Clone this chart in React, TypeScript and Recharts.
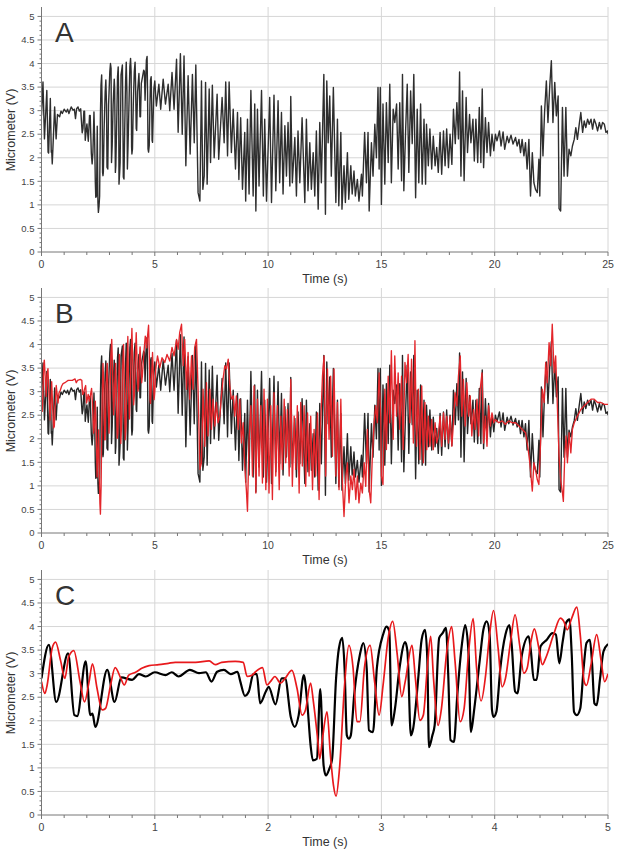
import React from 'react';
import { LineChart, Line, XAxis, YAxis, CartesianGrid } from 'recharts';

type Pair = [number, number];

// first 5 s (black = micrometer, red = model)
const blackZoom: Pair[] = [
  [0, 2.9], [0.065, 3.61], [0.13, 2.4], [0.235, 3.43], [0.29, 2.12], [0.315, 2.1], [0.39, 3.26], [0.43, 2.12],
  [0.45, 2.15], [0.475, 1.87], [0.58, 3.08], [0.645, 2.4], [0.705, 2.92], [0.8, 2.87], [0.86, 2.99], [0.92, 2.94],
  [1.0, 3.03], [1.095, 2.97], [1.15, 3.03], [1.21, 2.94], [1.31, 3.08], [1.39, 3.01], [1.45, 3.03], [1.5, 2.83],
  [1.55, 3.04], [1.61, 3.08], [1.67, 2.99], [1.73, 3.04], [1.755, 2.83], [1.795, 2.53], [1.83, 2.62], [1.87, 2.99],
  [1.9, 2.99], [1.93, 2.37], [1.98, 2.62], [2.005, 2.72], [2.065, 2.35], [2.12, 2.9], [2.15, 2.9], [2.2, 2.08],
  [2.235, 1.87], [2.27, 2.12], [2.315, 2.97], [2.345, 2.4], [2.375, 1.48], [2.395, 1.16], [2.43, 1.19], [2.46, 2.67],
  [2.49, 1.05], [2.51, 0.84], [2.54, 0.98], [2.565, 1.19], [2.6, 2.9], [2.625, 3.54], [2.655, 3.76], [2.675, 3.12],
  [2.695, 1.69], [2.713, 1.62], [2.73, 1.69], [2.76, 2.55], [2.81, 3.4], [2.84, 3.65], [2.87, 3.12], [2.89, 1.8],
  [2.926, 1.76], [2.96, 3.12], [3.015, 3.83], [3.044, 4.0], [3.07, 3.9], [3.09, 1.9], [3.12, 2.26], [3.16, 3.12],
  [3.21, 3.67], [3.23, 3.47], [3.26, 1.69], [3.28, 1.83], [3.325, 2.9], [3.355, 3.72], [3.385, 3.93], [3.405, 3.33],
  [3.42, 1.44], [3.45, 1.69], [3.47, 1.9], [3.51, 3.76], [3.54, 3.86], [3.57, 3.97], [3.59, 2.97], [3.61, 1.59],
  [3.64, 1.55], [3.67, 2.55], [3.71, 3.61], [3.74, 4.03], [3.77, 3.4], [3.79, 1.76], [3.82, 2.26], [3.87, 3.33],
  [3.9, 3.93], [3.93, 4.11], [3.955, 3.83], [3.976, 2.23], [3.99, 2.08], [4.015, 2.19], [4.05, 3.12], [4.095, 3.83],
  [4.13, 4.03], [4.15, 3.61], [4.18, 2.62], [4.2, 2.58], [4.24, 3.4], [4.3, 3.79], [4.32, 3.47], [4.345, 2.87],
  [4.37, 2.87], [4.405, 3.58], [4.46, 3.72], [4.51, 3.86], [4.54, 3.83], [4.57, 3.22], [4.6, 3.68], [4.63, 4.08],
  [4.66, 4.15], [4.68, 3.4], [4.7, 2.19], [4.725, 2.12], [4.755, 2.26], [4.785, 3.12], [4.81, 3.65], [4.84, 3.72],
  [4.86, 3.19], [4.88, 2.37], [4.9, 2.33], [4.93, 2.9], [4.96, 3.47], [5.0, 3.63],
];

const redZoom: Pair[] = [
  [0, 2.83], [0.03, 2.58], [0.05, 2.76], [0.094, 3.54], [0.124, 3.67], [0.17, 3.26], [0.206, 2.9], [0.24, 3.36],
  [0.285, 3.49], [0.34, 2.83], [0.38, 2.4], [0.42, 2.83], [0.45, 3.21], [0.49, 2.69], [0.535, 2.23], [0.565, 2.26],
  [0.61, 2.76], [0.65, 3.13], [0.7, 2.9], [0.73, 2.76], [0.77, 2.97], [0.83, 3.03], [0.89, 3.12], [0.95, 3.17],
  [1.035, 3.19], [1.12, 3.22], [1.18, 3.24], [1.27, 3.24], [1.36, 3.24], [1.48, 3.27], [1.535, 3.19], [1.59, 3.24],
  [1.71, 3.26], [1.78, 3.24], [1.815, 2.94], [1.86, 2.97], [1.89, 3.04], [1.95, 3.13], [1.99, 2.76], [2.02, 2.83],
  [2.06, 2.94], [2.11, 2.8], [2.15, 2.9], [2.21, 3.07], [2.255, 2.69], [2.3, 2.12], [2.33, 2.23], [2.375, 2.8],
  [2.4, 2.4], [2.44, 1.55], [2.455, 1.19], [2.48, 1.62], [2.52, 2.19], [2.55, 1.27], [2.577, 0.63], [2.6, 0.4],
  [2.63, 0.98], [2.675, 2.76], [2.713, 3.6], [2.75, 3.12], [2.784, 1.98], [2.81, 1.98], [2.85, 3.12], [2.9, 3.6],
  [2.94, 2.83], [2.98, 2.12], [3.015, 2.76], [3.06, 3.76], [3.1, 4.11], [3.14, 3.4], [3.18, 2.51], [3.21, 2.83],
  [3.27, 3.6], [3.3, 2.9], [3.34, 2.01], [3.37, 2.12], [3.405, 3.12], [3.435, 3.79], [3.46, 2.9], [3.5, 1.9],
  [3.53, 2.26], [3.577, 3.47], [3.62, 4.0], [3.65, 3.26], [3.695, 1.98], [3.73, 2.26], [3.77, 3.47], [3.81, 4.17],
  [3.84, 3.12], [3.88, 2.42], [3.92, 2.97], [3.955, 3.83], [3.99, 4.34], [4.03, 3.54], [4.065, 2.72], [4.095, 2.9],
  [4.14, 3.68], [4.18, 4.25], [4.22, 3.61], [4.257, 3.01], [4.287, 3.12], [4.32, 3.68], [4.35, 3.95], [4.39, 3.54],
  [4.42, 3.19], [4.45, 3.33], [4.52, 3.83], [4.58, 4.18], [4.61, 4.11], [4.64, 3.93], [4.68, 4.18], [4.725, 4.41],
  [4.755, 3.83], [4.79, 2.83], [4.81, 2.75], [4.85, 3.19], [4.9, 3.83], [4.94, 3.26], [4.97, 2.83], [5.0, 3.0],
];

const blackLong: Pair[] = [
  [5.07, 3.1], [5.18, 3.56], [5.26, 3.03], [5.37, 3.67], [5.47, 3.14], [5.59, 3.56], [5.66, 3.0], [5.76, 3.81],
  [5.85, 3.03], [5.96, 4.09], [6.03, 2.54], [6.13, 4.21], [6.21, 2.5], [6.29, 4.16], [6.37, 1.83], [6.47, 3.74],
  [6.56, 2.08], [6.66, 3.77], [6.74, 2.32], [6.81, 3.97], [6.91, 1.26], [6.99, 1.08], [7.06, 3.63], [7.12, 1.33],
  [7.18, 1.61], [7.24, 3.6], [7.31, 1.44], [7.4, 3.46], [7.46, 1.9], [7.54, 3.54], [7.62, 2.0], [7.75, 3.35],
  [7.82, 1.97], [7.97, 3.28], [8.06, 2.32], [8.13, 3.61], [8.21, 2.04], [8.28, 3.61], [8.38, 2.11], [8.46, 3.03],
  [8.56, 1.76], [8.65, 2.96], [8.71, 1.54], [8.79, 2.85], [8.87, 1.33], [8.97, 2.54], [9.01, 1.08], [9.09, 2.82],
  [9.16, 1.23], [9.24, 3.43], [9.34, 1.19], [9.41, 3.14], [9.46, 0.87], [9.53, 3.03], [9.6, 1.4], [9.71, 3.43],
  [9.79, 1.19], [9.85, 2.82], [9.93, 1.08], [10.07, 3.28], [10.15, 1.05], [10.26, 3.33], [10.34, 1.3], [10.44, 3.21],
  [10.51, 1.47], [10.59, 2.96], [10.66, 1.23], [10.74, 2.68], [10.81, 1.61], [10.88, 2.75], [10.96, 1.4], [11.0, 3.3],
  [11.07, 1.47], [11.18, 2.43], [11.25, 1.19], [11.32, 2.57], [11.4, 1.47], [11.5, 2.85], [11.62, 1.05], [11.69, 2.82],
  [11.76, 1.3], [11.84, 2.32], [11.91, 1.33], [11.99, 2.11], [12.06, 1.19], [12.13, 2.57], [12.21, 0.91], [12.28, 2.75],
  [12.35, 1.47], [12.46, 3.77], [12.53, 0.8], [12.59, 3.63], [12.65, 2.32], [12.72, 3.31], [12.79, 1.61], [12.88, 3.49],
  [12.99, 1.05], [13.06, 2.82], [13.12, 0.98], [13.21, 2.54], [13.26, 0.91], [13.35, 1.83], [13.41, 1.05], [13.5, 2.11],
  [13.56, 1.12], [13.65, 1.83], [13.71, 1.23], [13.79, 1.72], [13.85, 1.19], [13.94, 1.54], [14.01, 1.08], [14.12, 1.65],
  [14.16, 1.19], [14.26, 2.54], [14.34, 1.47], [14.41, 2.54], [14.46, 0.87], [14.56, 2.32], [14.63, 1.61], [14.71, 2.71],
  [14.78, 2.0], [14.85, 3.49], [14.9, 1.76], [14.95, 3.49], [15.0, 1.01], [15.07, 3.14], [15.15, 1.44], [15.22, 3.17],
  [15.3, 1.9], [15.37, 3.56], [15.44, 1.47], [15.52, 3.03], [15.59, 2.75], [15.67, 3.14], [15.74, 1.76], [15.81, 3.17],
  [15.89, 1.51], [15.93, 3.77], [15.99, 1.3], [16.07, 2.6], [16.14, 3.56], [16.21, 1.69], [16.29, 3.42], [16.36, 2.3],
  [16.43, 3.77], [16.51, 1.15], [16.58, 3.03], [16.65, 1.47], [16.73, 3.14], [16.8, 1.44], [16.88, 2.82], [16.95, 1.44],
  [16.99, 2.71], [17.07, 1.83], [17.14, 2.61], [17.22, 1.76], [17.29, 2.46], [17.37, 1.83], [17.44, 2.22], [17.51, 1.69],
  [17.59, 2.54], [17.66, 1.65], [17.74, 2.57], [17.81, 1.83], [17.88, 2.61], [17.96, 1.79], [18.03, 2.5], [18.11, 1.86],
  [18.18, 3.03], [18.26, 2.3], [18.33, 3.17], [18.4, 2.4], [18.45, 3.82], [18.51, 1.61], [18.58, 3.42], [18.65, 1.51],
  [18.74, 3.28], [18.8, 2.11], [18.89, 2.92], [18.95, 2.32], [19.04, 2.82], [19.1, 1.93], [19.17, 2.82], [19.25, 1.9],
  [19.32, 3.07], [19.39, 1.9], [19.45, 3.46], [19.51, 1.79], [19.59, 2.85], [19.66, 2.11], [19.73, 2.75], [19.81, 2.04],
  [19.88, 2.5], [19.96, 2.15], [20.03, 2.5], [20.1, 2.36], [20.21, 2.57], [20.28, 2.25], [20.37, 2.55], [20.44, 2.18],
  [20.55, 2.46], [20.62, 2.32], [20.72, 2.48], [20.81, 2.29], [20.92, 2.43], [20.99, 2.25], [21.07, 2.39], [21.14, 2.11],
  [21.21, 2.39], [21.29, 2.04], [21.36, 2.32], [21.43, 1.76], [21.51, 2.39], [21.58, 1.19], [21.66, 2.11], [21.73, 1.47],
  [21.8, 1.33], [21.88, 1.26], [21.95, 1.97], [21.99, 1.19], [22.06, 3.1], [22.13, 2.04], [22.2, 2.96], [22.28, 3.63],
  [22.35, 2.75], [22.43, 3.53], [22.5, 4.06], [22.57, 2.75], [22.65, 3.6], [22.72, 2.89], [22.8, 3.31], [22.84, 0.92],
  [22.91, 0.87], [22.99, 3.07], [23.06, 1.61], [23.14, 3.07], [23.21, 1.61], [23.28, 2.18], [23.36, 2.04], [23.43, 2.25],
  [23.51, 2.39], [23.58, 2.64], [23.65, 2.39], [23.73, 2.71], [23.8, 2.96], [23.88, 2.54], [23.95, 2.78], [24.02, 2.64],
  [24.1, 2.82], [24.17, 2.71], [24.25, 2.82], [24.32, 2.61], [24.39, 2.82], [24.47, 2.71], [24.54, 2.57], [24.62, 2.75],
  [24.69, 2.61], [24.76, 2.75], [24.84, 2.71], [24.91, 2.54], [24.99, 2.57], [25.0, 2.5],
];

const redLong: Pair[] = [
  [5.04, 3.48], [5.12, 3.76], [5.22, 3.51], [5.32, 3.72], [5.44, 3.62], [5.54, 3.79], [5.66, 3.65], [5.76, 3.94],
  [5.85, 3.76], [5.96, 4.11], [6.03, 3.9], [6.1, 4.26], [6.18, 4.43], [6.25, 3.55], [6.32, 4.11], [6.4, 3.05],
  [6.47, 3.83], [6.54, 2.84], [6.62, 3.76], [6.69, 3.05], [6.76, 3.94], [6.84, 4.11], [6.91, 3.05], [6.99, 1.35],
  [7.06, 1.49], [7.13, 3.05], [7.21, 1.84], [7.28, 3.19], [7.35, 2.06], [7.43, 3.05], [7.5, 2.2], [7.57, 2.84],
  [7.65, 2.27], [7.72, 2.77], [7.79, 2.34], [7.87, 2.48], [7.94, 2.91], [8.01, 3.26], [8.09, 3.55], [8.16, 3.48],
  [8.24, 3.69], [8.31, 3.12], [8.38, 2.84], [8.46, 2.91], [8.53, 2.48], [8.6, 2.91], [8.68, 2.2], [8.75, 2.84],
  [8.82, 1.91], [8.9, 2.34], [8.97, 1.42], [9.04, 0.92], [9.09, 0.46], [9.16, 1.99], [9.24, 2.7], [9.31, 1.21],
  [9.38, 3.12], [9.46, 0.85], [9.53, 2.84], [9.6, 1.21], [9.68, 2.7], [9.75, 1.06], [9.82, 3.05], [9.9, 0.92],
  [9.97, 2.84], [10.04, 0.85], [10.12, 2.7], [10.19, 0.71], [10.26, 2.98], [10.34, 1.21], [10.41, 2.7], [10.49, 0.92],
  [10.56, 2.48], [10.63, 1.35], [10.71, 2.84], [10.78, 1.49], [10.85, 2.62], [10.93, 1.21], [11.0, 3.26], [11.07, 0.99],
  [11.15, 2.48], [11.22, 1.35], [11.29, 2.7], [11.37, 0.85], [11.44, 2.77], [11.51, 1.42], [11.59, 2.7], [11.66, 0.99],
  [11.74, 2.55], [11.81, 1.21], [11.88, 2.48], [11.96, 0.92], [12.03, 2.2], [12.1, 1.21], [12.18, 2.55], [12.25, 0.71],
  [12.32, 2.34], [12.4, 3.33], [12.47, 3.76], [12.54, 1.21], [12.62, 3.48], [12.69, 1.99], [12.76, 3.33], [12.84, 1.63],
  [12.91, 3.48], [12.99, 1.21], [13.06, 2.77], [13.13, 0.92], [13.21, 2.84], [13.28, 1.06], [13.35, 0.35], [13.43, 1.21],
  [13.5, 1.49], [13.57, 0.64], [13.65, 1.21], [13.72, 0.92], [13.79, 1.35], [13.87, 0.71], [13.94, 1.21], [14.01, 0.64],
  [14.09, 1.06], [14.16, 0.85], [14.24, 1.49], [14.31, 0.99], [14.38, 2.2], [14.46, 0.92], [14.53, 0.64], [14.6, 1.63],
  [14.68, 2.34], [14.75, 2.7], [14.82, 2.34], [14.9, 3.4], [14.97, 2.48], [15.0, 1.21], [15.07, 1.03], [15.15, 3.05],
  [15.22, 1.77], [15.3, 3.33], [15.37, 2.34], [15.44, 3.87], [15.52, 1.99], [15.59, 3.76], [15.67, 2.48], [15.74, 3.4],
  [15.81, 2.2], [15.89, 3.33], [15.96, 1.77], [16.04, 3.62], [16.11, 3.19], [16.18, 3.79], [16.26, 2.34], [16.33, 3.69],
  [16.41, 1.91], [16.48, 4.08], [16.55, 1.84], [16.63, 3.05], [16.7, 1.56], [16.78, 3.12], [16.85, 1.49], [16.92, 2.77],
  [17.0, 1.77], [17.07, 2.48], [17.14, 1.84], [17.22, 2.41], [17.29, 1.77], [17.37, 2.34], [17.44, 1.91], [17.51, 2.06],
  [17.59, 2.48], [17.66, 1.84], [17.74, 2.55], [17.81, 1.99], [17.88, 2.48], [17.96, 1.91], [18.03, 2.48], [18.11, 1.84],
  [18.18, 2.34], [18.25, 2.98], [18.33, 2.7], [18.4, 3.33], [18.48, 3.76], [18.55, 2.48], [18.62, 3.26], [18.7, 2.27],
  [18.77, 3.19], [18.85, 2.48], [18.92, 2.91], [18.99, 2.06], [19.07, 2.62], [19.14, 2.2], [19.22, 2.84], [19.29, 2.06],
  [19.36, 3.05], [19.44, 3.4], [19.51, 1.91], [19.59, 2.48], [19.66, 1.84], [19.73, 2.7], [19.81, 2.27], [19.88, 2.55],
  [19.96, 2.34], [20.03, 2.41], [20.18, 2.34], [20.33, 2.38], [20.47, 2.31], [20.62, 2.38], [20.77, 2.34], [20.92, 2.34],
  [21.07, 2.27], [21.21, 2.2], [21.36, 2.13], [21.46, 1.84], [21.55, 1.49], [21.66, 0.89], [21.73, 1.49], [21.8, 1.35],
  [21.88, 1.13], [21.95, 1.03], [22.03, 1.99], [22.1, 3.05], [22.18, 2.77], [22.25, 3.62], [22.32, 3.19], [22.4, 4.04],
  [22.47, 3.55], [22.54, 4.43], [22.62, 3.4], [22.69, 3.76], [22.77, 2.62], [22.84, 1.63], [22.91, 1.13], [22.99, 0.85],
  [23.03, 0.67], [23.09, 1.63], [23.15, 2.06], [23.21, 1.49], [23.28, 2.13], [23.36, 1.7], [23.43, 2.2], [23.51, 2.34],
  [23.65, 2.48], [23.8, 2.62], [23.95, 2.7], [24.1, 2.77], [24.25, 2.84], [24.39, 2.84], [24.54, 2.77], [24.69, 2.77],
  [24.84, 2.73], [25.0, 2.73],
];

const yLabels = [0, 0.5, 1, 1.5, 2, 2.5, 3, 3.5, 4, 4.5, 5];
const xLabelsLong = [0, 5, 10, 15, 20, 25];
const xLabelsZoom = [0, 1, 2, 3, 4, 5];
const panelLetters = ['A', 'B', 'C'];

const FONT = '"Liberation Sans", Arial, Helvetica, sans-serif';
const PANEL_TOPS = [0, 281, 563];

const toPts = (pairs: Pair[]) => pairs.map(([t, v]) => ({ t, v }));

const blackFull = toPts([...blackZoom, ...blackLong]);
const redFull = toPts([...redZoom, ...redLong]);
const blackC = toPts(blackZoom);
const redC = toPts(redZoom);

// unlabeled minor tick positions
const yMinor = Array.from({ length: 51 }, (_, i) => i / 10);
const xMinorLong = Array.from({ length: 26 }, (_, i) => i);
const xMinorZoom = Array.from({ length: 26 }, (_, i) => i / 5);

const isIn = (list: number[], v: number) => list.some((m) => Math.abs(m - v) < 1e-6);

const makeXTick = (majors: number[]) => (props: any) => {
  const { x, y, payload } = props;
  const major = isIn(majors, payload.value);
  return (
    <g>
      <line x1={x} x2={x} y1={y} y2={y + (major ? 4 : 3)} stroke="#777" />
      {major && (
        <text x={x} y={y + 16} textAnchor="middle" fontSize={10.5} fill="#444" fontFamily={FONT}>
          {payload.value}
        </text>
      )}
    </g>
  );
};

const YTick = (props: any) => {
  const { x, y, payload } = props;
  const major = isIn(yLabels, payload.value);
  return (
    <g>
      <line x1={x - (major ? 4 : 2)} x2={x} y1={y} y2={y} stroke="#777" />
      {major && (
        <text x={x - 7} y={y + 3.2} textAnchor="end" fontSize={9.5} fill="#444" fontFamily={FONT}>
          {payload.value}
        </text>
      )}
    </g>
  );
};

type Series = { data: { t: number; v: number }[]; color: string; width: number };

function Panel({ top, xMax, majors, minors, series, curve }: {
  top: number; xMax: number; majors: number[]; minors: number[]; series: Series[]; curve: 'linear' | 'monotone';
}) {
  return (
    <div style={{ position: 'absolute', top, left: 0 }}>
      <LineChart width={624} height={280} margin={{ top: 7, right: 16, bottom: 0, left: 0 }}>
        <CartesianGrid
          stroke="#d6d6d6"
          horizontalValues={yLabels.filter((v) => v > 0)}
          verticalValues={majors.filter((v) => v > 0)}
        />
        <XAxis
          type="number"
          dataKey="t"
          domain={[0, xMax]}
          ticks={minors}
          interval={0}
          tickSize={0}
          tickMargin={0}
          height={28}
          stroke="#777"
          tick={makeXTick(majors)}
          allowDataOverflow
        />
        <YAxis
          type="number"
          domain={[0, 5.2]}
          ticks={yMinor}
          interval={0}
          tickSize={0}
          tickMargin={0}
          width={41.5}
          stroke="#777"
          tick={YTick}
          allowDataOverflow
        />
        {series.map((s, i) => (
          <Line
            key={i}
            data={s.data}
            dataKey="v"
            type={curve}
            stroke={s.color}
            strokeWidth={s.width}
            strokeLinejoin="round"
            dot={false}
            activeDot={false}
            isAnimationActive={false}
          />
        ))}
      </LineChart>
    </div>
  );
}

export default function App() {
  return (
    <div style={{ position: 'absolute', top: 0, left: 0, width: 624, height: 857, background: '#fff' }}>
      <Panel top={PANEL_TOPS[0]} xMax={25} majors={xLabelsLong} minors={xMinorLong} curve="linear"
        series={[{ data: blackFull, color: '#2e2e2e', width: 1.4 }]} />
      <Panel top={PANEL_TOPS[1]} xMax={25} majors={xLabelsLong} minors={xMinorLong} curve="linear"
        series={[{ data: blackFull, color: '#262626', width: 1.4 }, { data: redFull, color: '#e3262b', width: 1.35 }]} />
      <Panel top={PANEL_TOPS[2]} xMax={5} majors={xLabelsZoom} minors={xMinorZoom} curve="monotone"
        series={[{ data: blackC, color: '#000', width: 2.2 }, { data: redC, color: '#e8191c', width: 1.7 }]} />
      <svg width={624} height={857} style={{ position: 'absolute', top: 0, left: 0, pointerEvents: 'none' }}>
        {PANEL_TOPS.map((o, i) => (
          <g key={i} fontFamily={FONT} fill="#333">
            <text x={55} y={o + 42} fontSize={28}>{panelLetters[i]}</text>
            <text transform={`translate(11,${o + 130}) rotate(-90)`} textAnchor="middle" dominantBaseline="central" fontSize={12.5}>
              Micrometer (V)
            </text>
            <text x={325} y={o + 283} textAnchor="middle" fontSize={12.5}>Time (s)</text>
          </g>
        ))}
      </svg>
    </div>
  );
}
